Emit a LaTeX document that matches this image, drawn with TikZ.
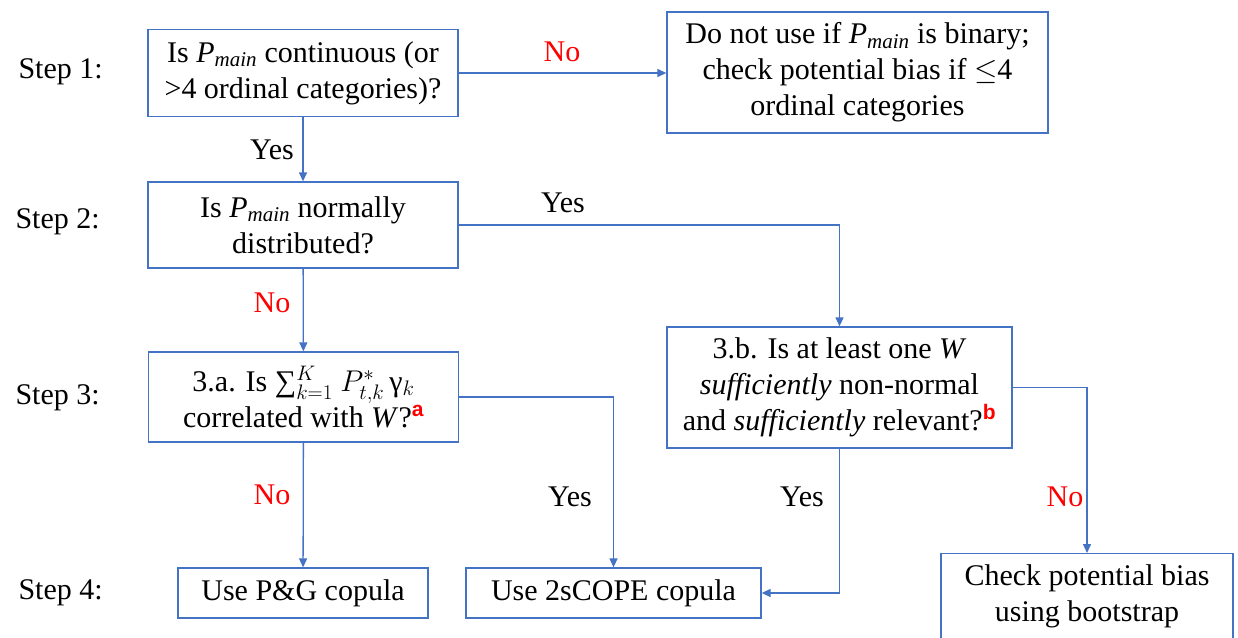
\RequirePackage{fix-cm}
\documentclass[tikz,border=0pt]{standalone}
\usepackage{exscale}
\usepackage{fontspec}
\setmainfont{Liberation Serif}
\setsansfont{Liberation Sans}
\usepackage{xcolor}
\usetikzlibrary{arrows.meta}
\definecolor{flowblue}{RGB}{68,114,196}
\definecolor{flowred}{RGB}{255,0,0}
\newcommand{\pmain}{{\itshape P}\textsubscript{\itshape main}}
\newcommand{\fnmark}[1]{\textsuperscript{\textcolor{flowred}{\sffamily\bfseries #1}}}

\begin{document}
\begin{tikzpicture}[x=1pt, y=-1pt,
        qbox/.style={draw=flowblue, line width=1.3pt, rectangle, inner sep=0pt, align=center,
                     font=\fontsize{30}{36}\selectfont},
        link/.style={draw=flowblue, line width=1.3pt, -{Triangle[length=9pt, width=8pt]}},
        yeslab/.style={font=\fontsize{30}{36}\selectfont},
        nolab/.style={font=\fontsize{30}{36}\selectfont, text=flowred},
        steplab/.style={font=\fontsize{30}{36}\selectfont, anchor=west}]
      % canvas of the reference, 1 unit = 1 px
      \useasboundingbox (0,0) rectangle (1238,637);
      \clip (0,0) rectangle (1238,637);
      % Step labels
      \node[steplab] (s1) at (15,72) {Step 1:};
      \node[steplab] (s2) at (12,222) {Step 2:};
      \node[steplab] (s3) at (12,398) {Step 3:};
      \node[steplab] (s4) at (15,593) {Step 4:};
      % Question boxes
      \node[qbox, minimum width=310pt, minimum height=87pt] (q1) at (303,73)
            {Is \pmain{} continuous (or\\ >4 ordinal categories)?};
      \node[qbox, minimum width=381pt, minimum height=121pt] (nouse) at (857.5,72.5)
            {Do not use if \pmain{} is binary;\\ check potential bias if $\leq$4\\ ordinal categories};
      \node[qbox, minimum width=310pt, minimum height=86pt] (q2) at (303,225)
            {Is \pmain{} normally\\ distributed?};
      \node[qbox, minimum width=310pt, minimum height=90pt] (q3a) at (303.5,397)
            {3.a. Is ∑$_{k=1}^{K}$ $P_{t,k}^{*}$\,γ$_{k}$\\ correlated with \textit{W}?\fnmark{a}};
      \node[qbox, minimum width=345pt, minimum height=121pt] (q3b) at (839.5,387.5)
            {3.b. Is at least one \textit{W}\\ \textit{sufficiently} non-normal\\ and \textit{sufficiently} relevant?\fnmark{b}};
      % Outcome boxes
      \node[qbox, minimum width=250pt, minimum height=50pt] (pg) at (303,593) {Use P\&G copula};
      \node[qbox, minimum width=295pt, minimum height=50pt] (cope) at (613.5,593) {Use 2sCOPE copula};
      \node[qbox, minimum width=292pt, minimum height=86pt, anchor=north] (boot) at (1087,553)
            {Check potential bias\\ using bootstrap};
      % Connectors
      \draw[link] (q1.east) -- (q1.east -| nouse.west);
      \draw[link] (q1) -- (q2);
      \draw[link] (q2.east) -| (q3b.north);
      \draw[link] (q2) -- (q3a);
      \draw[link] (q3a.east) -| (cope.north);
      \draw[link] (q3a) -- (pg);
      \draw[link] (q3b.south) |- (cope.east);
      \draw[link] (q3b.east) -| (boot.north);
      % Branch labels
      \node[nolab] (n1) at (562,52) {No};
      \node[yeslab] (y1) at (272,150) {Yes};
      \node[yeslab] (y2) at (563,203) {Yes};
      \node[nolab] (n2) at (272,303) {No};
      \node[nolab] (n3) at (272,495) {No};
      \node[yeslab] (y3) at (570,497) {Yes};
      \node[yeslab] (y4) at (802,497) {Yes};
      \node[nolab] (n4) at (1065,497) {No};
    \end{tikzpicture}
\end{document}
